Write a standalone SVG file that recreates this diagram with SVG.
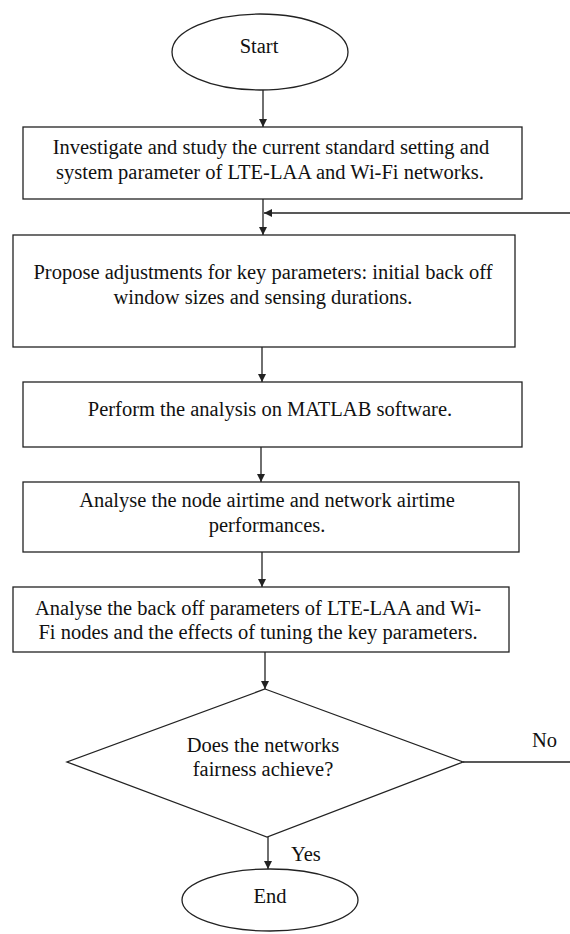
<svg xmlns="http://www.w3.org/2000/svg" width="570" height="934" viewBox="0 0 570 934">
<style>
.s{fill:#fff;stroke:#222;stroke-width:1.3}
.t{font-family:"Liberation Serif","Times New Roman",serif;font-size:20.5px;fill:#111;text-anchor:middle}
.l{text-anchor:start}
.c{fill:none;stroke:#222;stroke-width:1.3}
</style>
<defs>
<marker id="ah" viewBox="0 0 10 10" refX="10" refY="5" markerWidth="8" markerHeight="8" markerUnits="userSpaceOnUse" orient="auto">
<path d="M0,0 L10,5 L0,10 z" fill="#222"/>
</marker>
</defs>
<rect width="570" height="934" fill="#fff"/>
<g id="connectors">
<line class="c" x1="263" y1="90" x2="263" y2="127" marker-end="url(#ah)"/>
<line class="c" x1="263" y1="199" x2="263" y2="235" marker-end="url(#ah)"/>
<line class="c" x1="570" y1="213" x2="264" y2="213" marker-end="url(#ah)"/>
<line class="c" x1="262" y1="347" x2="262" y2="382" marker-end="url(#ah)"/>
<line class="c" x1="261" y1="447" x2="261" y2="482" marker-end="url(#ah)"/>
<line class="c" x1="262" y1="552" x2="262" y2="587" marker-end="url(#ah)"/>
<line class="c" x1="265" y1="652" x2="265" y2="689" marker-end="url(#ah)"/>
<line class="c" x1="463" y1="762" x2="570" y2="762"/>
<line class="c" x1="268" y1="837" x2="268" y2="869" marker-end="url(#ah)"/>
<text class="t l" x="532" y="747">No</text>
<text class="t l" x="291" y="861">Yes</text>
</g>
<g id="start">
<ellipse class="s" cx="260" cy="52" rx="88" ry="38"/>
<text class="t" x="259" y="53" font-size="22.5">Start</text>
</g>
<g id="investigate">
<rect class="s" x="23" y="127" width="499" height="72"/>
<text class="t" x="271" y="154">Investigate and study the current standard setting and</text>
<text class="t" x="270" y="179">system parameter of LTE-LAA and Wi-Fi networks.</text>
</g>
<g id="propose">
<rect class="s" x="13" y="235" width="502" height="112"/>
<text class="t" x="263" y="279">Propose adjustments for key parameters: initial back off</text>
<text class="t" x="263" y="304">window sizes and sensing durations.</text>
</g>
<g id="perform">
<rect class="s" x="23" y="382" width="499" height="65"/>
<text class="t" x="270" y="416">Perform the analysis on MATLAB software.</text>
</g>
<g id="analyse-airtime">
<rect class="s" x="23" y="482" width="496" height="70"/>
<text class="t" x="267" y="507">Analyse the node airtime and network airtime</text>
<text class="t" x="267" y="532">performances.</text>
</g>
<g id="analyse-backoff">
<rect class="s" x="13" y="587" width="496" height="65"/>
<text class="t" x="258" y="615">Analyse the back off parameters of LTE-LAA and Wi-</text>
<text class="t" x="258" y="639">Fi nodes and the effects of tuning the key parameters.</text>
</g>
<g id="decision">
<polygon class="s" points="265,689 463,762 267,837 67,762"/>
<text class="t" x="263" y="752">Does the networks</text>
<text class="t" x="263" y="776">fairness achieve?</text>
</g>
<g id="end">
<ellipse class="s" cx="270" cy="900" rx="88" ry="31"/>
<text class="t" x="270" y="903" font-size="17.5">End</text>
</g>
</svg>
